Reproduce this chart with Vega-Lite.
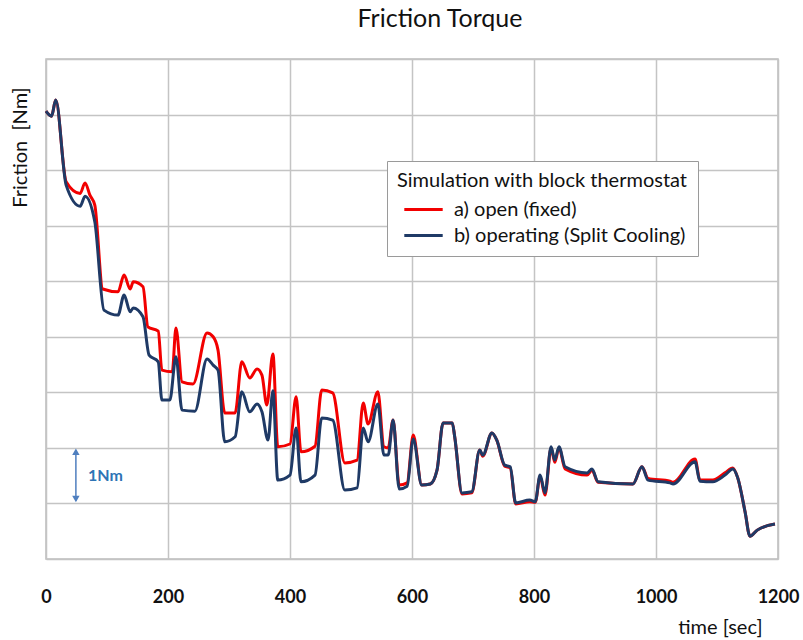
{
  "$schema": "https://vega.github.io/schema/vega-lite/v6.json",
  "autosize": {"type": "none"},
  "width": 732,
  "height": 500,
  "padding": {"left": 46, "top": 59, "right": 25, "bottom": 81},
  "background": "white",
  "config": {
    "font": "Lato",
    "view": {"stroke": "#bdbdbd", "strokeWidth": 1.5},
    "axis": {"gridColor": "#c4c4c4", "gridWidth": 1.5, "domain": false, "ticks": false}
  },
  "title": {"text": "Friction Torque", "fontSize": 25, "fontWeight": "normal", "font": "Lato", "color": "#111", "anchor": "middle", "dx": 28, "offset": 27},
  "encoding": {
    "x": {"field": "t", "type": "quantitative", "scale": {"domain": [0, 1200], "nice": false},
      "axis": {"values": [0, 200, 400, 600, 800, 1000, 1200], "format": "d", "title": "time [sec]", "labelFontSize": 18, "labelFontWeight": "bold", "labelColor": "#111", "labelPadding": 29, "titleFontSize": 20, "titleFontWeight": "normal", "titleColor": "#111", "titleAnchor": "end", "titleAlign": "right", "titleX": 716, "titleY": 68, "titleBaseline": "middle", "labelFlush": false}},
    "y": {"field": "v", "type": "quantitative", "scale": {"domain": [0, 9], "nice": false, "zero": false},
      "axis": {"values": [0, 1, 2, 3, 4, 5, 6, 7, 8, 9], "labels": false, "title": "Friction\u00a0 [Nm]", "titleFontSize": 20, "titleFontWeight": "normal", "titleColor": "#111", "titleAngle": -90, "titleX": -26, "titleY": 88, "titleAlign": "center", "titleBaseline": "middle"}}
  },
  "layer": [
    {
      "data": {"values": [
        {"t":0,"v":8.06,"s":"a) open (fixed)"},{"t":9,"v":7.97,"s":"a) open (fixed)"},{"t":16,"v":8.26,"s":"a) open (fixed)"},{"t":33,"v":6.79,"s":"a) open (fixed)"},{"t":56,"v":6.58,"s":"a) open (fixed)"},{"t":64,"v":6.77,"s":"a) open (fixed)"},{"t":72,"v":6.55,"s":"a) open (fixed)"},{"t":80,"v":6.37,"s":"a) open (fixed)"},{"t":93,"v":4.86,"s":"a) open (fixed)"},{"t":118,"v":4.81,"s":"a) open (fixed)"},{"t":128,"v":5.11,"s":"a) open (fixed)"},{"t":138,"v":4.86,"s":"a) open (fixed)"},{"t":143,"v":4.99,"s":"a) open (fixed)"},{"t":159,"v":4.90,"s":"a) open (fixed)"},{"t":167,"v":4.18,"s":"a) open (fixed)"},{"t":184,"v":4.10,"s":"a) open (fixed)"},{"t":190,"v":3.40,"s":"a) open (fixed)"},{"t":207,"v":3.37,"s":"a) open (fixed)"},{"t":213,"v":4.16,"s":"a) open (fixed)"},{"t":223,"v":3.19,"s":"a) open (fixed)"},{"t":241,"v":3.15,"s":"a) open (fixed)"},{"t":264,"v":4.07,"s":"a) open (fixed)"},{"t":274,"v":4.00,"s":"a) open (fixed)"},{"t":282,"v":3.76,"s":"a) open (fixed)"},{"t":293,"v":2.63,"s":"a) open (fixed)"},{"t":310,"v":2.63,"s":"a) open (fixed)"},{"t":321,"v":3.55,"s":"a) open (fixed)"},{"t":334,"v":3.26,"s":"a) open (fixed)"},{"t":346,"v":3.42,"s":"a) open (fixed)"},{"t":354,"v":3.31,"s":"a) open (fixed)"},{"t":362,"v":2.77,"s":"a) open (fixed)"},{"t":372,"v":3.69,"s":"a) open (fixed)"},{"t":380,"v":2.02,"s":"a) open (fixed)"},{"t":400,"v":2.07,"s":"a) open (fixed)"},{"t":410,"v":2.92,"s":"a) open (fixed)"},{"t":418,"v":1.93,"s":"a) open (fixed)"},{"t":441,"v":2.03,"s":"a) open (fixed)"},{"t":452,"v":3.04,"s":"a) open (fixed)"},{"t":470,"v":2.99,"s":"a) open (fixed)"},{"t":490,"v":1.73,"s":"a) open (fixed)"},{"t":510,"v":1.78,"s":"a) open (fixed)"},{"t":520,"v":2.81,"s":"a) open (fixed)"},{"t":528,"v":2.43,"s":"a) open (fixed)"},{"t":544,"v":3.01,"s":"a) open (fixed)"},{"t":554,"v":2.02,"s":"a) open (fixed)"},{"t":561,"v":2.00,"s":"a) open (fixed)"},{"t":569,"v":2.50,"s":"a) open (fixed)"},{"t":579,"v":1.33,"s":"a) open (fixed)"},{"t":592,"v":1.37,"s":"a) open (fixed)"},{"t":602,"v":2.23,"s":"a) open (fixed)"},{"t":616,"v":1.33,"s":"a) open (fixed)"},{"t":630,"v":1.35,"s":"a) open (fixed)"},{"t":641,"v":1.60,"s":"a) open (fixed)"},{"t":651,"v":2.45,"s":"a) open (fixed)"},{"t":666,"v":2.45,"s":"a) open (fixed)"},{"t":670,"v":2.20,"s":"a) open (fixed)"},{"t":682,"v":1.17,"s":"a) open (fixed)"},{"t":698,"v":1.19,"s":"a) open (fixed)"},{"t":711,"v":1.96,"s":"a) open (fixed)"},{"t":716,"v":1.85,"s":"a) open (fixed)"},{"t":731,"v":2.27,"s":"a) open (fixed)"},{"t":739,"v":2.14,"s":"a) open (fixed)"},{"t":752,"v":1.67,"s":"a) open (fixed)"},{"t":761,"v":1.64,"s":"a) open (fixed)"},{"t":770,"v":0.99,"s":"a) open (fixed)"},{"t":793,"v":1.03,"s":"a) open (fixed)"},{"t":802,"v":1.02,"s":"a) open (fixed)"},{"t":810,"v":1.49,"s":"a) open (fixed)"},{"t":818,"v":1.15,"s":"a) open (fixed)"},{"t":828,"v":2.00,"s":"a) open (fixed)"},{"t":834,"v":1.74,"s":"a) open (fixed)"},{"t":841,"v":2.00,"s":"a) open (fixed)"},{"t":851,"v":1.62,"s":"a) open (fixed)"},{"t":887,"v":1.51,"s":"a) open (fixed)"},{"t":895,"v":1.60,"s":"a) open (fixed)"},{"t":905,"v":1.38,"s":"a) open (fixed)"},{"t":962,"v":1.35,"s":"a) open (fixed)"},{"t":977,"v":1.66,"s":"a) open (fixed)"},{"t":987,"v":1.45,"s":"a) open (fixed)"},{"t":1023,"v":1.40,"s":"a) open (fixed)"},{"t":1028,"v":1.38,"s":"a) open (fixed)"},{"t":1064,"v":1.80,"s":"a) open (fixed)"},{"t":1072,"v":1.42,"s":"a) open (fixed)"},{"t":1093,"v":1.42,"s":"a) open (fixed)"},{"t":1113,"v":1.55,"s":"a) open (fixed)"},{"t":1126,"v":1.64,"s":"a) open (fixed)"},{"t":1134,"v":1.46,"s":"a) open (fixed)"},{"t":1146,"v":0.85,"s":"a) open (fixed)"},{"t":1154,"v":0.41,"s":"a) open (fixed)"},{"t":1166,"v":0.52,"s":"a) open (fixed)"},{"t":1195,"v":0.63,"s":"a) open (fixed)"},
        {"t":0,"v":8.06,"s":"b) operating (Split Cooling)"},{"t":9,"v":7.97,"s":"b) operating (Split Cooling)"},{"t":16,"v":8.26,"s":"b) operating (Split Cooling)"},{"t":33,"v":6.73,"s":"b) operating (Split Cooling)"},{"t":56,"v":6.35,"s":"b) operating (Split Cooling)"},{"t":64,"v":6.53,"s":"b) operating (Split Cooling)"},{"t":80,"v":6.07,"s":"b) operating (Split Cooling)"},{"t":95,"v":4.48,"s":"b) operating (Split Cooling)"},{"t":118,"v":4.39,"s":"b) operating (Split Cooling)"},{"t":128,"v":4.75,"s":"b) operating (Split Cooling)"},{"t":138,"v":4.45,"s":"b) operating (Split Cooling)"},{"t":143,"v":4.52,"s":"b) operating (Split Cooling)"},{"t":159,"v":4.36,"s":"b) operating (Split Cooling)"},{"t":169,"v":3.67,"s":"b) operating (Split Cooling)"},{"t":184,"v":3.55,"s":"b) operating (Split Cooling)"},{"t":190,"v":2.86,"s":"b) operating (Split Cooling)"},{"t":203,"v":2.86,"s":"b) operating (Split Cooling)"},{"t":213,"v":3.64,"s":"b) operating (Split Cooling)"},{"t":223,"v":2.68,"s":"b) operating (Split Cooling)"},{"t":244,"v":2.66,"s":"b) operating (Split Cooling)"},{"t":264,"v":3.60,"s":"b) operating (Split Cooling)"},{"t":274,"v":3.49,"s":"b) operating (Split Cooling)"},{"t":282,"v":3.40,"s":"b) operating (Split Cooling)"},{"t":293,"v":2.11,"s":"b) operating (Split Cooling)"},{"t":310,"v":2.20,"s":"b) operating (Split Cooling)"},{"t":321,"v":3.01,"s":"b) operating (Split Cooling)"},{"t":334,"v":2.65,"s":"b) operating (Split Cooling)"},{"t":346,"v":2.79,"s":"b) operating (Split Cooling)"},{"t":354,"v":2.65,"s":"b) operating (Split Cooling)"},{"t":364,"v":2.14,"s":"b) operating (Split Cooling)"},{"t":372,"v":3.03,"s":"b) operating (Split Cooling)"},{"t":380,"v":1.42,"s":"b) operating (Split Cooling)"},{"t":400,"v":1.51,"s":"b) operating (Split Cooling)"},{"t":410,"v":2.36,"s":"b) operating (Split Cooling)"},{"t":418,"v":1.39,"s":"b) operating (Split Cooling)"},{"t":441,"v":1.51,"s":"b) operating (Split Cooling)"},{"t":452,"v":2.54,"s":"b) operating (Split Cooling)"},{"t":470,"v":2.50,"s":"b) operating (Split Cooling)"},{"t":490,"v":1.24,"s":"b) operating (Split Cooling)"},{"t":510,"v":1.28,"s":"b) operating (Split Cooling)"},{"t":520,"v":2.36,"s":"b) operating (Split Cooling)"},{"t":528,"v":2.11,"s":"b) operating (Split Cooling)"},{"t":544,"v":2.79,"s":"b) operating (Split Cooling)"},{"t":554,"v":1.87,"s":"b) operating (Split Cooling)"},{"t":561,"v":1.87,"s":"b) operating (Split Cooling)"},{"t":569,"v":2.50,"s":"b) operating (Split Cooling)"},{"t":579,"v":1.26,"s":"b) operating (Split Cooling)"},{"t":592,"v":1.31,"s":"b) operating (Split Cooling)"},{"t":602,"v":2.16,"s":"b) operating (Split Cooling)"},{"t":616,"v":1.33,"s":"b) operating (Split Cooling)"},{"t":630,"v":1.35,"s":"b) operating (Split Cooling)"},{"t":641,"v":1.60,"s":"b) operating (Split Cooling)"},{"t":651,"v":2.45,"s":"b) operating (Split Cooling)"},{"t":666,"v":2.45,"s":"b) operating (Split Cooling)"},{"t":670,"v":2.20,"s":"b) operating (Split Cooling)"},{"t":682,"v":1.19,"s":"b) operating (Split Cooling)"},{"t":698,"v":1.21,"s":"b) operating (Split Cooling)"},{"t":711,"v":1.96,"s":"b) operating (Split Cooling)"},{"t":716,"v":1.87,"s":"b) operating (Split Cooling)"},{"t":731,"v":2.27,"s":"b) operating (Split Cooling)"},{"t":739,"v":2.14,"s":"b) operating (Split Cooling)"},{"t":752,"v":1.69,"s":"b) operating (Split Cooling)"},{"t":761,"v":1.66,"s":"b) operating (Split Cooling)"},{"t":770,"v":1.01,"s":"b) operating (Split Cooling)"},{"t":793,"v":1.06,"s":"b) operating (Split Cooling)"},{"t":802,"v":1.03,"s":"b) operating (Split Cooling)"},{"t":810,"v":1.51,"s":"b) operating (Split Cooling)"},{"t":818,"v":1.19,"s":"b) operating (Split Cooling)"},{"t":828,"v":2.02,"s":"b) operating (Split Cooling)"},{"t":834,"v":1.78,"s":"b) operating (Split Cooling)"},{"t":841,"v":2.02,"s":"b) operating (Split Cooling)"},{"t":851,"v":1.66,"s":"b) operating (Split Cooling)"},{"t":887,"v":1.55,"s":"b) operating (Split Cooling)"},{"t":895,"v":1.62,"s":"b) operating (Split Cooling)"},{"t":905,"v":1.39,"s":"b) operating (Split Cooling)"},{"t":962,"v":1.35,"s":"b) operating (Split Cooling)"},{"t":977,"v":1.66,"s":"b) operating (Split Cooling)"},{"t":987,"v":1.42,"s":"b) operating (Split Cooling)"},{"t":1023,"v":1.37,"s":"b) operating (Split Cooling)"},{"t":1028,"v":1.35,"s":"b) operating (Split Cooling)"},{"t":1064,"v":1.75,"s":"b) operating (Split Cooling)"},{"t":1072,"v":1.40,"s":"b) operating (Split Cooling)"},{"t":1093,"v":1.39,"s":"b) operating (Split Cooling)"},{"t":1113,"v":1.51,"s":"b) operating (Split Cooling)"},{"t":1126,"v":1.62,"s":"b) operating (Split Cooling)"},{"t":1134,"v":1.46,"s":"b) operating (Split Cooling)"},{"t":1146,"v":0.85,"s":"b) operating (Split Cooling)"},{"t":1154,"v":0.41,"s":"b) operating (Split Cooling)"},{"t":1166,"v":0.52,"s":"b) operating (Split Cooling)"},{"t":1195,"v":0.63,"s":"b) operating (Split Cooling)"}
      ]},
      "mark": {"type": "line", "strokeWidth": 3, "interpolate": "monotone"},
      "encoding": {
        "color": {"field": "s", "type": "nominal",
          "scale": {"domain": ["a) open (fixed)", "b) operating (Split Cooling)"], "range": ["#F20000", "#1F3A66"]},
          "legend": {"orient": "none", "legendX": 341, "legendY": 102, "title": "Simulation with block thermostat", "titleFont": "Lato", "titleFontSize": 20, "titleFontWeight": "normal", "titleColor": "#111", "titleLimit": 400, "labelFont": "Lato", "labelFontSize": 20, "labelColor": "#111", "labelLimit": 400, "symbolType": "M-1.6,0H1.6", "symbolSize": 576, "symbolStrokeWidth": 3, "symbolOffset": 13, "strokeColor": "#9a9a9a", "fillColor": "white", "padding": 10, "rowPadding": 2, "labelOffset": 17, "titlePadding": 5}}
      }
    },
    {
      "data": {"values": [{"t": 49, "v": 1.05, "v2": 1.95}]},
      "mark": {"type": "rule", "color": "#4F7FBF", "strokeWidth": 1.5},
      "encoding": {"y2": {"field": "v2"}}
    },
    {
      "data": {"values": [{"t": 49, "v": 1.93, "dir": "up"}, {"t": 49, "v": 1.08, "dir": "down"}]},
      "mark": {"type": "point", "filled": true, "color": "#4F7FBF", "opacity": 1, "size": 55},
      "encoding": {"shape": {"field": "dir", "type": "nominal", "scale": {"domain": ["up", "down"], "range": ["triangle-up", "triangle-down"]}, "legend": null}}
    },
    {
      "data": {"values": [{"t": 69, "v": 1.5, "label": "1Nm"}]},
      "mark": {"type": "text", "align": "left", "baseline": "middle", "fontSize": 16, "fontWeight": "bold", "color": "#2E74B5", "font": "Lato"},
      "encoding": {"text": {"field": "label"}}
    }
  ]
}
